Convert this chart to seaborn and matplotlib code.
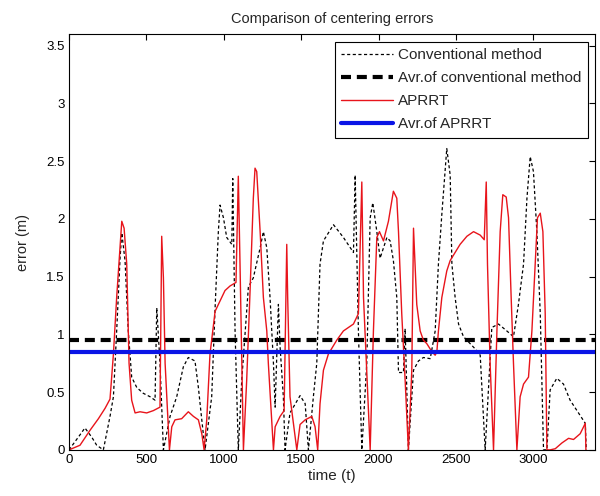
import numpy as np
import pandas as pd
import seaborn as sns
import matplotlib
matplotlib.use("Agg")
import matplotlib.pyplot as plt
from matplotlib.ticker import FuncFormatter

# conventional method
conv_t = [0, 71, 103, 147, 179, 222, 265, 287, 308, 330, 341, 362, 383, 405, 438, 480,
          524, 556, 567, 588, 610, 653, 696, 739, 771, 814, 836, 858, 879, 922, 944, 965,
          976, 998, 1019, 1052, 1058, 1073, 1094, 1116, 1159, 1191, 1235, 1256, 1278, 1299,
          1321, 1332, 1353, 1364, 1385, 1396, 1428, 1493, 1526, 1547, 1579, 1601, 1622,
          1644, 1709, 1773, 1838, 1849, 1870, 1892, 1924, 1946, 1963, 1989, 2010, 2054,
          2075, 2096, 2118, 2129, 2161, 2172, 2193, 2226, 2258, 2290, 2334, 2366, 2387,
          2409, 2441, 2463, 2474, 2495, 2517, 2549, 2592, 2635, 2657, 2689, 2732, 2775,
          2829, 2872, 2904, 2937, 2959, 2980, 3001, 3023, 3045, 3066, 3088, 3109, 3152,
          3195, 3238, 3292, 3336, 3342]
conv_e = [0, 0.13, 0.19, 0.11, 0.04, 0, 0.29, 0.46, 1.03, 1.66, 1.88, 1.64, 1.03, 0.63,
          0.54, 0.49, 0.46, 0.43, 1.23, 0.75, 0, 0.29, 0.46, 0.72, 0.80, 0.77, 0.54, 0.26,
          0, 0.46, 1.23, 1.89, 2.12, 2.01, 1.84, 1.78, 2.35, 1.03, 0, 0.60, 1.41, 1.49,
          1.75, 1.89, 1.75, 1.32, 0.75, 0.37, 1.26, 0.89, 0.46, 0, 0.32, 0.47, 0.40, 0,
          0.46, 0.75, 1.61, 1.81, 1.95, 1.84, 1.71, 2.38, 1.03, 0, 0.75, 2.01, 2.14, 1.89,
          1.66, 1.84, 1.81, 1.64, 1.32, 0.67, 0.67, 1.05, 0, 0.69, 0.77, 0.80, 0.79, 1.03,
          1.61, 2.04, 2.61, 2.38, 1.61, 1.32, 1.09, 0.98, 0.92, 0.86, 0.82, 0, 1.06, 1.09,
          1.03, 0.98, 1.26, 1.61, 2.18, 2.54, 2.41, 1.89, 1.18, 0, 0, 0.52, 0.62, 0.57,
          0.43, 0.32, 0.23, 0]

# APRRT
aprrt_t = [0, 71, 136, 190, 233, 265, 287, 308, 325, 341, 356, 373, 388, 405, 427, 459,
           502, 545, 588, 599, 610, 621, 649, 664, 685, 728, 771, 804, 836, 858, 873, 890,
           911, 944, 976, 1008, 1041, 1079, 1094, 1105, 1127, 1148, 1170, 1191, 1202, 1213,
           1235, 1256, 1278, 1288, 1321, 1332, 1364, 1390, 1407, 1413, 1428, 1472, 1493,
           1526, 1569, 1590, 1607, 1622, 1644, 1676, 1730, 1773, 1838, 1870, 1892, 1903,
           1946, 1967, 1989, 2006, 2032, 2064, 2096, 2118, 2129, 2150, 2172, 2193, 2215,
           2226, 2247, 2269, 2290, 2312, 2345, 2366, 2377, 2387, 2409, 2441, 2463, 2527,
           2571, 2614, 2657, 2683, 2696, 2704, 2721, 2743, 2765, 2786, 2803, 2825, 2840,
           2857, 2872, 2894, 2915, 2937, 2969, 2991, 3012, 3027, 3045, 3062, 3077, 3088,
           3109, 3142, 3185, 3228, 3260, 3303, 3336, 3340]
aprrt_e = [0, 0.04, 0.17, 0.27, 0.36, 0.44, 0.83, 1.32, 1.66, 1.98, 1.92, 1.61, 0.75, 0.43,
           0.32, 0.33, 0.32, 0.34, 0.37, 1.85, 1.49, 0.75, 0, 0.20, 0.26, 0.27, 0.33, 0.29,
           0.26, 0.14, 0, 0.26, 0.83, 1.20, 1.29, 1.38, 1.42, 1.45, 2.37, 1.61, 0, 0.60,
           1.38, 2.18, 2.44, 2.41, 1.89, 1.32, 1.03, 0.75, 0, 0.20, 0.29, 0.34, 1.78, 1.32,
           0.46, 0, 0.22, 0.26, 0.29, 0.20, 0, 0.40, 0.69, 0.83, 0.95, 1.03, 1.09, 1.18,
           2.32, 1.32, 0, 1.03, 1.84, 1.89, 1.81, 1.98, 2.24, 2.18, 1.89, 1.18, 0.60, 0,
           0.69, 1.92, 1.26, 1.03, 0.95, 0.92, 0.85, 0.82, 0.85, 1.03, 1.32, 1.55, 1.64,
           1.78, 1.85, 1.89, 1.86, 1.82, 2.32, 1.61, 0.75, 0, 1.03, 1.89, 2.21, 2.19, 2.01,
           1.32, 0.75, 0, 0.46, 0.57, 0.63, 1.03, 1.61, 2.01, 2.05, 1.89, 1.18, 0, 0, 0.01,
           0.06, 0.10, 0.09, 0.14, 0.23, 0]

avg_conv = 0.955
avg_aprrt = 0.845

labels = ['Conventional method', 'Avr.of conventional method', 'APRRT', 'Avr.of APRRT']

sns.set_style("white")
plt.rcParams['font.family'] = ['Liberation Sans', 'DejaVu Sans']

conv = pd.DataFrame({'t': conv_t, 'e': conv_e})
aprrt = pd.DataFrame({'t': aprrt_t, 'e': aprrt_e})

fig = plt.figure(figsize=(6, 4.96), dpi=100)
ax = fig.add_axes([0.115, 0.093, 0.877, 0.838])

sns.lineplot(data=conv, x='t', y='e', sort=False, estimator=None, ax=ax,
             color='black', linestyle=(0, (2.5, 2)), linewidth=0.9, label=labels[0])
ax.axhline(avg_conv, color='black', linestyle=(0, (2.4, 1.4)), linewidth=3, label=labels[1])
sns.lineplot(data=aprrt, x='t', y='e', sort=False, estimator=None, ax=ax,
             color='#e8141b', linewidth=1.0, label=labels[2])
ax.axhline(avg_aprrt, color='#0a14e6', linewidth=3, label=labels[3])

ax.set_xlim(0, 3400)
ax.set_ylim(0, 3.6)
ax.set_xticks(np.arange(0, 3001, 500))
ax.set_yticks(np.arange(0, 3.51, 0.5))
ax.yaxis.set_major_formatter(FuncFormatter(lambda v, p: ('%g' % v)))
ax.tick_params(direction='in', top=True, right=True, length=4, width=0.8,
               labelsize=9.5, colors='black', pad=3)
for s in ax.spines.values():
    s.set_color('black')
    s.set_linewidth(0.8)

ax.set_xlabel('time (t)', fontsize=11, labelpad=2)
ax.set_ylabel('error (m)', fontsize=10.5, labelpad=12)
ax.set_title('Comparison of centering errors', fontsize=10.5, pad=8)

leg = ax.legend(loc='upper right', fancybox=False, framealpha=1, edgecolor='black',
                fontsize=11, handlelength=3.4, labelspacing=0.6, borderpad=0.4,
                handletextpad=0.35, borderaxespad=0.5)
leg.get_frame().set_linewidth(0.8)

fig.savefig('out.png', dpi=100)
